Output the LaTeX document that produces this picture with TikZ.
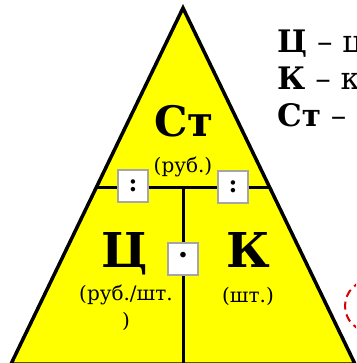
\documentclass[tikz,border=0pt]{standalone}
\usepackage{fontspec}
\setmainfont{DejaVu Serif}
\usetikzlibrary{positioning}
\definecolor{triyellow}{RGB}{255,255,0}

\begin{document}
\begin{tikzpicture}[x=1pt, y=-1pt,
    opbox/.style={draw=gray!70, fill=white, line width=1.2pt, minimum width=30pt, minimum height=32pt, inner sep=0pt, font=\fontsize{24}{24}\selectfont\bfseries},
    bigname/.style={font=\fontsize{48}{48}\selectfont\bfseries},
    unitlbl/.style={font=\fontsize{20}{22}\selectfont},
    legendln/.style={anchor=base west, font=\fontsize{31}{34}\selectfont, inner sep=0pt}]

    \useasboundingbox (0,0) rectangle (356,363);
    \clip (0,0) rectangle (356,363);
    \fill[white] (0,0) rectangle (356,363);

    % --- triangle ---
    \coordinate (apex) at (183,8);
    \coordinate (botL) at (11,364);
    \coordinate (botR) at (355,364);
    \filldraw[fill=triyellow, line width=3.5pt] (apex) -- (botR) -- (botL) -- cycle;

    \coordinate (midL) at (97,187);
    \coordinate (midR) at (269,187);
    \coordinate (midC) at (183,187);
    \coordinate (botC) at (183,364);
    \draw[line width=3pt] (midL) -- (midR);
    \draw[line width=3pt] (midC) -- (botC);

    % --- labels ---
    \node[bigname, font=\fontsize{42}{42}\selectfont\bfseries, anchor=base] (st) at (184,137) {Ст};
    \node[unitlbl] (strub) at (183,167) {(руб.)};

    \node[bigname, anchor=base] (ts) at (125,267) {Ц};
    \node[unitlbl, align=center, font=\fontsize{20}{27}\selectfont] (tsrub) at (126,308) {(руб./шт.\\)};

    \node[bigname, anchor=base] (k) at (248,267) {К};
    \node[unitlbl] (kpcs) at (248,296) {(шт.)};

    % --- operation boxes ---
    \node[opbox] (divL) at (133,186) {:};
    \node[opbox] (divR) at (233,187) {:};
    \node[opbox, font=\fontsize{30}{30}\selectfont\bfseries] (mult) at (183,259) {·};

    % --- legend ---
    \node[legendln] (lgts) at (277,53) {\textbf{Ц} – ц};
    \node[legendln] (lgk) at (277,90) {\textbf{К} – к};
    \node[legendln] (lgst) at (277,127) {\textbf{Ст} –};

    % --- red mark ---
    \draw[red!85!black, line width=2pt, dash pattern=on 8pt off 5pt] (371,306) circle (26);
\end{tikzpicture}
\end{document}
